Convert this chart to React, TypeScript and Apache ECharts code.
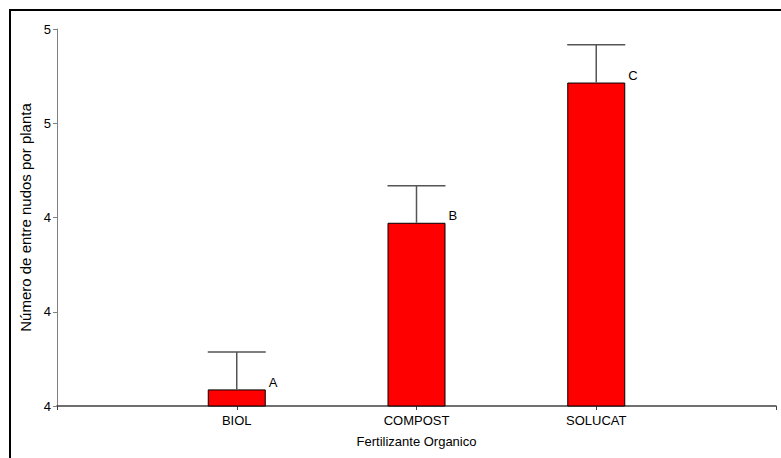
import React, { useEffect, useRef } from "react";
import * as echarts from "echarts";

const categories = ["BIOL", "COMPOST", "SOLUCAT"];
const means = [4.044, 4.486, 4.858];
const errorTops = [4.143, 4.584, 4.958];
const letters = ["A", "B", "C"];
const yTickLabels = ["4", "4", "4", "5", "5"];

const FONT = "Liberation Sans, Arial, sans-serif";

export default function App() {
  const ref = useRef<HTMLDivElement>(null);
  useEffect(() => {
    if (!ref.current) return;
    const chart = echarts.init(ref.current, null, { renderer: "svg" });
    const axisCats = ["", ...categories, ""];
    const barData = [null, ...means, null];
    const errData = categories.map((c, i) => [i + 1, means[i], errorTops[i], i]);
    const BAR_W = 58;
    chart.setOption({
      animation: false,
      backgroundColor: "#ffffff",
      textStyle: { fontFamily: FONT },
      graphic: [
        {
          type: "rect",
          shape: { x: 10, y: 10, width: 820, height: 520 },
          style: { fill: "none", stroke: "#000", lineWidth: 2 },
          silent: true,
          z: -1,
        },
      ],
      grid: { left: 57, top: 29, right: 5, bottom: 52 },
      xAxis: {
        type: "category",
        data: axisCats,
        boundaryGap: false,
        name: "Fertilizante Organico",
        nameLocation: "middle",
        nameGap: 29,
        nameTextStyle: { fontFamily: FONT, fontSize: 13, color: "#000" },
        axisLine: { lineStyle: { color: "#404040", width: 1.5 } },
        axisTick: { show: true, length: 4, interval: 0, lineStyle: { color: "#404040" } },
        axisLabel: { interval: 0, margin: 8, fontFamily: FONT, fontSize: 13, color: "#000" },
        splitLine: { show: false },
      },
      yAxis: {
        type: "value",
        min: 4,
        max: 5,
        interval: 0.25,
        name: "Número de entre nudos por planta",
        nameLocation: "middle",
        nameGap: 22,
        nameTextStyle: { fontFamily: FONT, fontSize: 15, color: "#000" },
        axisLine: { show: true, lineStyle: { color: "#808080", width: 1 } },
        axisTick: { show: true, length: 4, lineStyle: { color: "#808080" } },
        axisLabel: {
          margin: 6,
          fontFamily: FONT,
          fontSize: 13,
          color: "#000",
          formatter: (v: number, idx: number) => yTickLabels[idx] ?? "",
        },
        splitLine: { show: false },
      },
      series: [
        {
          type: "bar",
          data: barData,
          barWidth: BAR_W,
          clip: true,
          itemStyle: { color: "#ff0000", borderColor: "#000", borderWidth: 1 },
          z: 2,
        },
        {
          type: "custom",
          data: errData,
          encode: { x: 0, y: [1, 2] },
          z: 3,
          renderItem: (params: any, api: any) => {
            const x = api.value(0);
            const m = api.value(1);
            const t = api.value(2);
            const idx = api.value(3);
            const pBase = api.coord([x, m]);
            const pTop = api.coord([x, t]);
            const half = BAR_W / 2;
            return {
              type: "group",
              children: [
                {
                  type: "line",
                  shape: { x1: pBase[0], y1: pBase[1], x2: pTop[0], y2: pTop[1] },
                  style: { stroke: "#555", lineWidth: 1.5 },
                },
                {
                  type: "line",
                  shape: { x1: pTop[0] - half, y1: pTop[1], x2: pTop[0] + half, y2: pTop[1] },
                  style: { stroke: "#555", lineWidth: 1.5 },
                },
                {
                  type: "text",
                  x: pBase[0] + half + 3,
                  y: pBase[1] - 7,
                  style: {
                    text: letters[idx],
                    fontFamily: FONT,
                    fontSize: 13,
                    fill: "#000",
                    align: "left",
                    verticalAlign: "middle",
                  },
                },
              ],
            };
          },
        },
      ],
    });
    return () => chart.dispose();
  }, []);
  return (
    <div
      ref={ref}
      style={{ position: "fixed", left: 0, top: 0, width: 781, height: 458, background: "#fff" }}
    />
  );
}
